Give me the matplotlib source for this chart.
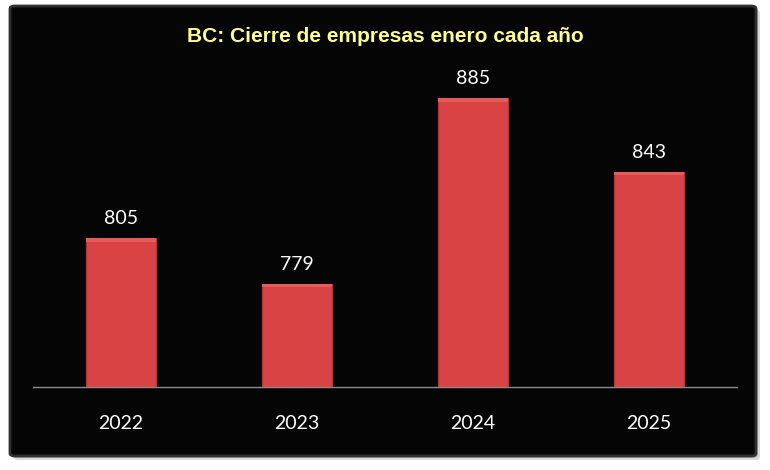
import matplotlib
matplotlib.use("Agg")
import matplotlib.pyplot as plt
from matplotlib.patches import FancyBboxPatch

# ---------------------------------------------------------------- data
years = ["2022", "2023", "2024", "2025"]
closures = [805, 779, 885, 843]
title = "BC: Cierre de empresas enero cada año"

# ---------------------------------------------------------------- style
W, H = 770, 470
BAR = "#D94343"
BAR_EDGE = "#B53030"
TITLE_C = "#FFFF8C"
AXIS_C = "#8C8C8C"

fig = plt.figure(figsize=(W / 100, H / 100), dpi=100, facecolor="white")


def px(x0, y0, x1, y1):
    """pixel box (top-left origin) -> figure-fraction rect"""
    return [x0 / W, 1 - y1 / H, (x1 - x0) / W, (y1 - y0) / H]


# shadow + black card
for off, col in [(4, "#DADADA"), (2, "#B8B8B8")]:
    r = px(10 + off, 6 + off, 756 + off, 456 + off)
    fig.patches.append(FancyBboxPatch((r[0], r[1]), r[2], r[3],
                                      boxstyle="round,pad=0,rounding_size=0.006",
                                      transform=fig.transFigure, facecolor=col,
                                      edgecolor="none", zorder=-3))
r = px(10, 6, 756, 456)
fig.patches.append(FancyBboxPatch((r[0], r[1]), r[2], r[3],
                                  boxstyle="round,pad=0,rounding_size=0.006",
                                  transform=fig.transFigure, facecolor="#050505",
                                  edgecolor="#303030", linewidth=2.0, zorder=-2))

ax = fig.add_axes(px(33, 60, 737, 387))
ax.set_facecolor("none")
x = range(len(years))
ax.bar(x, closures, width=0.4, color=BAR, edgecolor=BAR_EDGE,
       linewidth=0.8, zorder=3)
# soft bevel highlight along top of each bar
ax.bar(x, [2.0] * len(years), bottom=[v - 2.0 for v in closures], width=0.4,
       color="#E35C5C", edgecolor="none", zorder=4)

ax.set_xlim(-0.5, 3.5)
ax.set_ylim(720, 906.9)
for i, v in enumerate(closures):
    ax.annotate(f"{v}", (i, v), xytext=(0, 8), textcoords="offset points",
                ha="center", va="bottom", color="white", fontsize=14,
                family="Lato")

ax.set_xticks(list(x))
ax.set_xticklabels(years, color="white", fontsize=14, family="Lato")
ax.tick_params(axis="x", length=0, pad=20)
ax.set_yticks([])
for s in ("top", "right", "left"):
    ax.spines[s].set_visible(False)
ax.spines["bottom"].set_color(AXIS_C)
ax.spines["bottom"].set_linewidth(1.0)

fig.text(385 / W, 1 - 37 / H, title, ha="center", va="center", color=TITLE_C,
         fontsize=15, fontweight="bold", family="Liberation Sans")

fig.savefig("out.png", dpi=100, facecolor="white")
